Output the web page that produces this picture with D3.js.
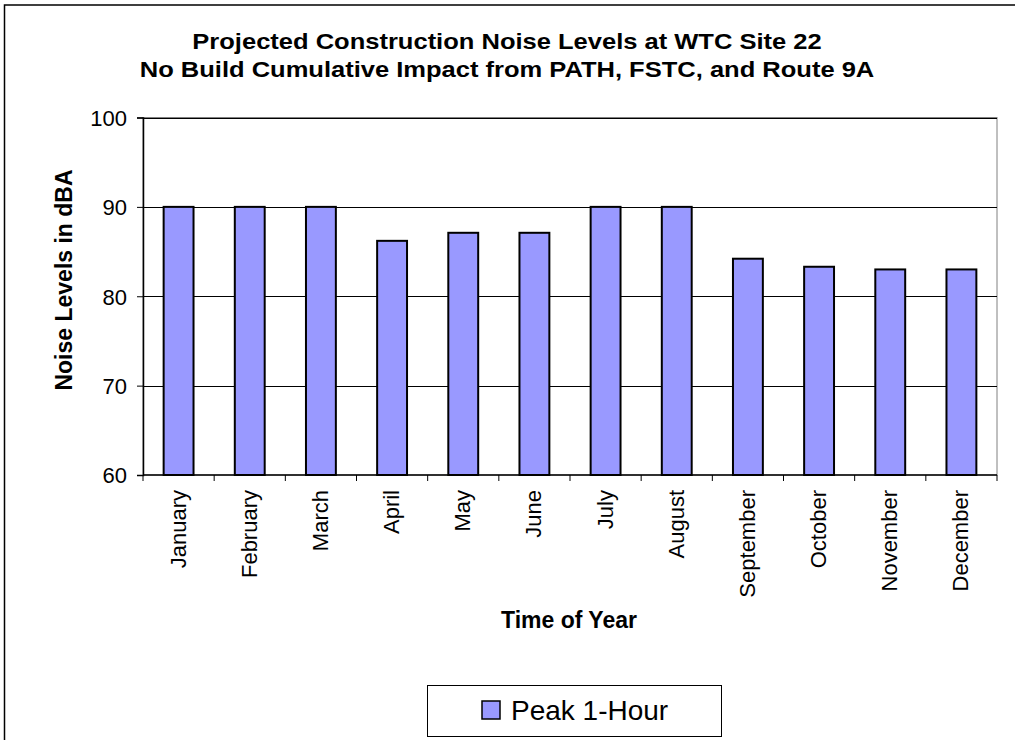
<!DOCTYPE html>
<html><head><meta charset="utf-8">
<script src="https://cdn.jsdelivr.net/npm/d3@7"></script>
<style>body{margin:0;background:#fff}svg{display:block;font-family:Arial,"Liberation Sans",sans-serif}</style>
</head><body>
<script>
const months = ["January","February","March","April","May","June","July","August","September","October","November","December"];
const peak1Hour = [90, 90, 90, 86.2, 87.1, 87.1, 90, 90, 84.2, 83.3, 83.0, 83.0];
const yTicks = [60, 70, 80, 90, 100];
const titleLines = ["Projected Construction Noise Levels at WTC Site 22", "No Build Cumulative Impact from PATH, FSTC, and Route 9A"];
const seriesName = "Peak 1-Hour";

const W = 1015, H = 740;
const FONT = "Arial, Liberation Sans, sans-serif";
const m = {left:143, right:1015-997, top:117.5, bottom:740-475};
const svg = d3.select("body").append("svg").attr("width", W).attr("height", H);

// chart border (cropped at right/bottom)
svg.append("rect").attr("x",4.5).attr("y",5).attr("width",1100).attr("height",1000)
  .attr("fill","none").attr("stroke","#000").attr("stroke-width",1.5);

const x = d3.scaleBand().domain(months).range([m.left, W-m.right]).paddingInner(0.58).paddingOuter(0.29);
const xb = d3.scaleBand().domain(months).range([m.left, W-m.right]);
const y = d3.scaleLinear().domain([60,100]).range([H-m.bottom, m.top]);

// plot area frame
svg.append("rect").attr("x",m.left).attr("y",m.top).attr("width",W-m.right-m.left).attr("height",H-m.bottom-m.top)
  .attr("fill","none").attr("stroke","#808080").attr("stroke-width",1);

// gridlines
svg.append("g").selectAll("line").data(yTicks.filter(d=>d>60)).join("line")
  .attr("x1",m.left).attr("x2",W-m.right).attr("y1",d=>Math.round(y(d))+0.5).attr("y2",d=>Math.round(y(d))+0.5)
  .attr("stroke","#000").attr("stroke-width",1);

// bars
svg.append("g").selectAll("rect").data(peak1Hour).join("rect")
  .attr("x",(d,i)=>x(months[i])).attr("width",x.bandwidth())
  .attr("y",d=>y(d)).attr("height",d=>y(60)-y(d))
  .attr("fill","#9999FF").attr("stroke","#000").attr("stroke-width",2);

// y axis
const yAxis = svg.append("g").attr("transform",`translate(${m.left},0)`)
  .call(d3.axisLeft(y).tickValues(yTicks).tickSize(6).tickPadding(10).tickFormat(d3.format("d")));
yAxis.attr("font-size",null).attr("font-family",null);
yAxis.select(".domain").attr("stroke","#000").attr("stroke-width",1.5);
yAxis.selectAll(".tick line").attr("stroke","#000");
yAxis.selectAll("text").attr("font-size",22).attr("fill","#000").attr("font-family",FONT).attr("dy","0.36em");

// x axis with ticks at category boundaries
const xAxisG = svg.append("g").attr("transform",`translate(0,${H-m.bottom})`);
xAxisG.append("line").attr("x1",m.left).attr("x2",W-m.right).attr("stroke","#000").attr("stroke-width",1.5);
const bounds = months.map(mm=>xb(mm)).concat([W-m.right]);
xAxisG.selectAll("line.tk").data(bounds).join("line").attr("class","tk")
  .attr("x1",d=>d).attr("x2",d=>d).attr("y1",0).attr("y2",6).attr("stroke","#000");
xAxisG.selectAll("text").data(months).join("text")
  .attr("transform",d=>`translate(${xb(d)+xb.bandwidth()/2+7},15) rotate(-90)`)
  .attr("text-anchor","end").attr("font-size",22).attr("fill","#000").text(d=>d);

// titles (slightly wide rendering as in reference)
svg.append("text").attr("transform","translate(507,49) scale(1.16,1)").attr("text-anchor","middle")
  .attr("font-size",22).attr("font-weight","bold").text(titleLines[0]);
svg.append("text").attr("transform","translate(507,77) scale(1.16,1)").attr("text-anchor","middle")
  .attr("font-size",22).attr("font-weight","bold").text(titleLines[1]);

svg.append("text").attr("transform","translate(72,280) rotate(-90)").attr("text-anchor","middle")
  .attr("font-size",23).attr("font-weight","bold").text("Noise Levels in dBA");
svg.append("text").attr("x",569).attr("y",628).attr("text-anchor","middle")
  .attr("font-size",23).attr("font-weight","bold").text("Time of Year");

// legend
const lg = svg.append("g");
lg.append("rect").attr("x",427.5).attr("y",685.5).attr("width",294).attr("height",51).attr("fill","#fff").attr("stroke","#000").attr("stroke-width",1);
lg.append("rect").attr("x",482).attr("y",701).attr("width",18).attr("height",18).attr("fill","#9999FF").attr("stroke","#000").attr("stroke-width",1.5);
lg.append("text").attr("x",511).attr("y",720).attr("font-size",28).text(seriesName);
</script>
</body></html>
